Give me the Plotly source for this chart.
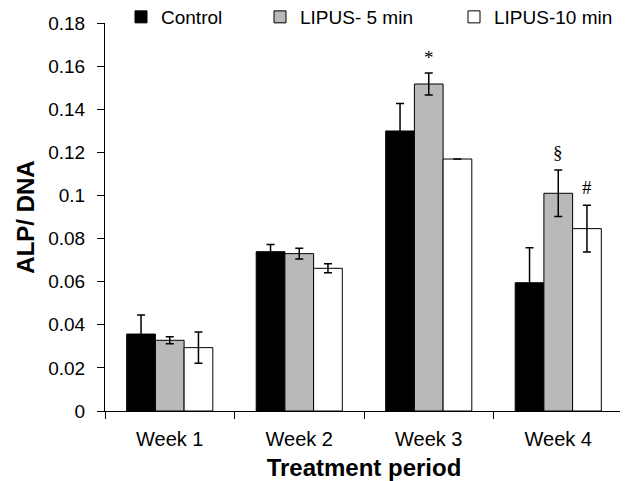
import plotly.graph_objects as go

categories = ["Week 1", "Week 2", "Week 3", "Week 4"]
control = [0.0357, 0.0739, 0.1299, 0.0595]
control_err = [0.0088, 0.0034, 0.0128, 0.0162]
lipus5 = [0.0328, 0.0730, 0.1517, 0.1010]
lipus5_err = [0.0016, 0.0025, 0.0051, 0.0108]
lipus10 = [0.0294, 0.0662, 0.1169, 0.0846]
lipus10_err = [0.0073, 0.0021, None, 0.0108]

y_ticks = [0, 0.02, 0.04, 0.06, 0.08, 0.1, 0.12, 0.14, 0.16, 0.18]
y_ticktext = ["0", "0.02", "0.04", "0.06", "0.08", "0.1", "0.12", "0.14", "0.16", "0.18"]

# significance markers: (category index, series index, text, y)
marks = [(2, 1, "*", 0.1638), (3, 1, "§", 0.1197), (3, 2, "#", 0.1035)]

FONT = "Liberation Sans, Arial, sans-serif"
bargap = 0.335
W, H = 620, 473  # page body adds an 8px margin

fig = go.Figure()
series = [
    ("Control", control, control_err, "#000000", "legend"),
    ("LIPUS- 5 min", lipus5, lipus5_err, "#b9b9b9", "legend2"),
    ("LIPUS-10 min", lipus10, lipus10_err, "#ffffff", "legend3"),
]
for name, vals, errs, color, leg in series:
    fig.add_trace(go.Bar(
        x=categories, y=vals, name=name, legend=leg, showlegend=True,
        marker=dict(color=color, line=dict(color="#000000", width=1)),
        error_y=dict(type="data", array=errs, visible=True, color="#000000",
                     thickness=1.5, width=4),
    ))

bw = (1 - bargap) / 3
for ci, si, txt, yv in marks:
    fig.add_annotation(x=ci + (si - 1) * bw, y=yv, xref="x", yref="y", text=txt,
                       showarrow=False, yanchor="middle",
                       font=dict(family="Liberation Serif, Times New Roman, serif", size=19, color="#000"))

leg_common = dict(orientation="h", xref="container", yref="container",
                  yanchor="middle", y=1 - 9 / H, xanchor="left",
                  font=dict(family=FONT, size=19, color="#000"),
                  bgcolor="rgba(0,0,0,0)", borderwidth=0)
fig.update_layout(
    width=W, height=H,
    margin=dict(l=97, r=5, t=15, b=70, autoexpand=False),
    paper_bgcolor="white", plot_bgcolor="white",
    barmode="group", bargap=bargap, bargroupgap=0,
    showlegend=True,
    font=dict(family=FONT, size=19, color="#000"),
    legend=dict(x=113 / W, **leg_common),
    legend2=dict(x=252 / W, **leg_common),
    legend3=dict(x=446 / W, **leg_common),
    xaxis=dict(showline=True, linecolor="#000", linewidth=1, ticks="outside",
               tickson="boundaries", ticklen=7, tickcolor="#000",
               tickfont=dict(size=20), ticklabelstandoff=10,
               title=dict(text="<b>Treatment period</b>", font=dict(size=24), standoff=19)),
    yaxis=dict(range=[0, 0.18], showline=True, linecolor="#000", linewidth=1,
               ticks="outside", ticklen=7, tickcolor="#000", showgrid=False,
               zeroline=False, tickvals=y_ticks, ticktext=y_ticktext,
               tickfont=dict(size=19), ticklabelstandoff=8,
               title=dict(text="<b>ALP/ DNA</b>", font=dict(size=24), standoff=6)),
)
fig.write_html("out.html")
